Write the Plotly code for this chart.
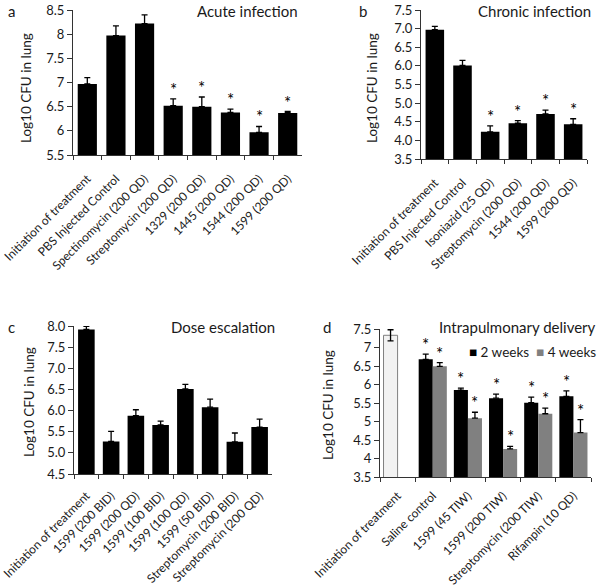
import plotly.graph_objects as go

W, H = 600, 587
FONT = "Lato"

# ---------------- data ----------------
a_cats = ["Initiation of treatment", "PBS Injected Control", "Spectinomycin (200 QD)",
          "Streptomycin (200 QD)", "1329 (200 QD)", "1445 (200 QD)", "1544 (200 QD)", "1599 (200 QD)"]
a_vals = [6.97, 7.97, 8.22, 6.52, 6.50, 6.38, 5.97, 6.37]
a_err = [0.13, 0.20, 0.18, 0.14, 0.20, 0.07, 0.12, 0.03]
a_star = [False, False, False, True, True, True, True, True]

b_cats = ["Initiation of treatment", "PBS Injected Control", "Isoniazid (25 QD)",
          "Streptomycin (200 QD)", "1544 (200 QD)", "1599 (200 QD)"]
b_vals = [6.97, 6.01, 4.23, 4.46, 4.71, 4.43]
b_err = [0.09, 0.14, 0.16, 0.07, 0.10, 0.15]
b_star = [False, False, True, True, True, True]

c_cats = ["Initiation of treatment", "1599 (200 BID)", "1599 (200 QD)", "1599 (100 BID)",
          "1599 (100 QD)", "1599 (50 BID)", "Streptomycin (200 BID)", "Streptomycin (200 QD)"]
c_vals = [7.92, 5.27, 5.88, 5.66, 6.51, 6.08, 5.26, 5.61]
c_err = [0.07, 0.24, 0.14, 0.09, 0.11, 0.19, 0.21, 0.19]

d_cats = ["Initiation of treatment", "Saline control", "1599 (45 TIW)", "1599 (200 TIW)",
          "Streptomycin (200 TIW)", "Rifampin (10 QD)"]
d_init_val = 7.33
d_init_err = 0.15
d_2w_vals = [6.68, 5.85, 5.63, 5.51, 5.68]
d_2w_err = [0.14, 0.05, 0.11, 0.15, 0.15]
d_4w_vals = [6.49, 5.09, 4.26, 5.21, 4.70]
d_4w_err = [0.10, 0.16, 0.07, 0.15, 0.35]
d_series = ["2 weeks", "4 weeks"]
d_colors = ["black", "#808080"]

# ---------------- layout geometry (pixels -> paper) ----------------
def px(x):
    return x / W

def py(y):
    return 1 - y / H

def xd(l, r):
    return [px(l), px(r)]

def yd(bottom, top):
    return [py(bottom), py(top)]

fig = go.Figure()

ERR = dict(type="data", symmetric=False, color="black", thickness=1.3, width=3)

def up_err(errs):
    return dict(ERR, array=errs, arrayminus=[0] * len(errs))

SINGLE_W = 0.67
fig.add_trace(go.Bar(x=a_cats, y=a_vals, marker_color="black", marker_line_width=0, width=SINGLE_W,
                     error_y=up_err(a_err), xaxis="x", yaxis="y", showlegend=False))
fig.add_trace(go.Bar(x=b_cats, y=b_vals, marker_color="black", marker_line_width=0, width=SINGLE_W,
                     error_y=up_err(b_err), xaxis="x2", yaxis="y2", showlegend=False))
fig.add_trace(go.Bar(x=c_cats, y=c_vals, marker_color="black", marker_line_width=0, width=SINGLE_W,
                     error_y=up_err(c_err), xaxis="x3", yaxis="y3", showlegend=False))
# panel d
fig.add_trace(go.Bar(x=d_cats[:1], y=[d_init_val], marker_color="#f2f2f2",
                     marker_line=dict(color="#7f7f7f", width=1),
                     error_y=dict(ERR, symmetric=True, array=[d_init_err]),
                     offsetgroup="w2", xaxis="x4", yaxis="y4", showlegend=False))
fig.add_trace(go.Bar(x=d_cats[1:], y=d_2w_vals, name=d_series[0], marker_color=d_colors[0],
                     marker_line_width=0, error_y=up_err(d_2w_err), showlegend=False,
                     offsetgroup="w2", xaxis="x4", yaxis="y4"))
fig.add_trace(go.Bar(x=d_cats[1:], y=d_4w_vals, name=d_series[1], marker_color=d_colors[1],
                     marker_line_width=0, error_y=up_err(d_4w_err), showlegend=False,
                     offsetgroup="w4", xaxis="x4", yaxis="y4"))

TXT = "#1a1a1a"
TICKF = dict(family=FONT, size=13, color=TXT)
XTF = dict(family=FONT, size=12, color=TXT)

def xaxis(dom, anchor, standoff=11):
    return dict(domain=dom, anchor=anchor, type="category", showline=True, linecolor="#333",
                linewidth=1, ticks="outside", tickson="boundaries", ticklen=4, tickcolor="#333",
                tickangle=-45, tickfont=XTF, ticklabelstandoff=standoff,
                showgrid=False, zeroline=False, automargin=False)

def yaxis(dom, anchor, rng, dtick, fmt):
    return dict(domain=dom, anchor=anchor, range=rng, dtick=dtick, tickformat=fmt,
                showline=True, linecolor="#333", linewidth=1, ticks="outside", ticklen=5,
                tickcolor="#333", tickfont=TICKF, showgrid=False, zeroline=False, automargin=False)

fig.update_layout(
    width=W, height=H, margin=dict(l=0, r=0, t=0, b=0, autoexpand=False),
    paper_bgcolor="white", plot_bgcolor="white",
    barmode="group", bargap=0.2, bargroupgap=0,
    font=dict(family=FONT, color=TXT),
    showlegend=False,
    xaxis=xaxis(xd(73, 302), "y"),
    yaxis=yaxis(yd(155, 10), "x", [5.5, 8.5], 0.5, ""),
    xaxis2=xaxis(xd(421, 587), "y2"),
    yaxis2=yaxis(yd(159, 10), "x2", [3.5, 7.5], 0.5, ".1f"),
    xaxis3=xaxis(xd(74, 272), "y3", 9),
    yaxis3=yaxis(yd(474, 326), "x3", [4.5, 8.0], 0.5, ".1f"),
    xaxis4=xaxis(xd(380, 591), "y4", 6),
    yaxis4=yaxis(yd(477, 329), "x4", [3.5, 7.5], 0.5, ""),
)

ann = []
def label(x, y, text, size=15, xanchor="left"):
    ann.append(dict(x=px(x), y=py(y), xref="paper", yref="paper", text=text, showarrow=False,
                    xanchor=xanchor, yanchor="middle", font=dict(family=FONT, size=size, color=TXT)))

label(6, 11, "a", 15)
label(357, 11, "b", 15)
label(6, 327, "c", 15)
label(321, 327, "d", 15)
label(300, 11, "Acute infection", 15, "right")
label(593, 11, "Chronic infection", 15, "right")
label(277, 327, "Dose escalation", 15, "right")
label(598, 327, "Intrapulmonary delivery", 15, "right")

# legend for panel d (drawn as text)
leg = "  ".join(f"<span style='color:{c}'>■</span> {n}" for c, n in zip(d_colors, d_series))
label(598, 352, leg, 13.5, "right")

def ytitle(x, y):
    ann.append(dict(x=px(x), y=py(y), xref="paper", yref="paper", text="Log10 CFU in lung",
                    showarrow=False, textangle=-90, xanchor="center", yanchor="middle",
                    font=dict(family=FONT, size=13.5, color=TXT)))

ytitle(26, 88)
ytitle(372, 88)
ytitle(29, 402)
ytitle(328, 405)

def star(xr, yr, cat, yv, xshift=0):
    ann.append(dict(x=cat, y=yv, xref=xr, yref=yr, text="*", showarrow=False, xanchor="center",
                    yanchor="bottom", xshift=xshift, yshift=-3,
                    font=dict(family=FONT, size=17, color="black")))

for c, v, e, s in zip(a_cats, a_vals, a_err, a_star):
    if s:
        star("x", "y", c, v + e)
for c, v, e, s in zip(b_cats, b_vals, b_err, b_star):
    if s:
        star("x2", "y2", c, v + e)
for c, v, e in zip(d_cats[1:], d_2w_vals, d_2w_err):
    star("x4", "y4", c, v + e, -7)
for c, v, e in zip(d_cats[1:], d_4w_vals, d_4w_err):
    star("x4", "y4", c, v + e, 7)

fig.update_layout(annotations=ann)
fig.write_html(
    "out.html",
    config={"displayModeBar": False, "staticPlot": True},
    post_script="document.body.style.margin='0';document.body.style.padding='0';"
                "document.body.style.overflow='hidden';",
)
